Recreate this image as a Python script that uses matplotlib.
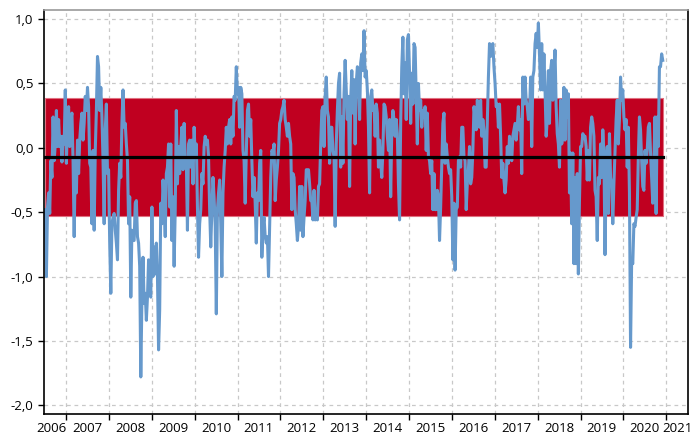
import matplotlib
matplotlib.use("Agg")
import matplotlib.pyplot as plt
import pandas as pd

plt.rcParams["font.family"] = ["Open Sans", "DejaVu Sans"]

# series (roughly weekly, mid 2006 to end 2020)
values = [
    # 2006 - 2008
    -0.48, -1.00, -0.46, -0.35, -0.51, -0.10, -0.23, 0.24, -0.10, 0.03, 0.29, 0.01, 0.22, 0.01, 0.09,
    -0.11, 0.09, 0.03, 0.45, -0.12, 0.22, 0.32, 0.01, 0.22, 0.27, -0.10, -0.69, -0.10, -0.35, 0.06,
    -0.20, 0.06, 0.19, 0.27, 0.06, 0.19, 0.40, 0.29, 0.47, 0.32, -0.12, -0.15, -0.59, -0.02, -0.64,
    -0.02, 0.29, 0.71, 0.63, 0.29, 0.47, 0.24, -0.10, -0.59, 0.14, 0.34, -0.20, -0.17, -0.74, -1.13,
    -0.59, -0.54, -0.51, -0.64, -0.74, -0.87, -0.33, -0.12, -0.23, 0.19, 0.45, 0.16, 0.19, 0.03, -0.10,
    -0.59, -0.38, -1.16, -0.64, -0.72, -0.72, -0.43, -0.41, -0.69, -0.74, -0.92, -1.78, -1.18, -0.85, -1.21,
    # 2008 - 2010
    -1.13, -1.34, -1.16, -0.87, -1.13, -1.16, -0.46, -1.00, -0.77, -0.98, -0.74, -1.00, -1.57, -1.26, -0.43,
    -0.59, -0.25, -0.43, -0.69, -0.20, -0.15, 0.03, -0.46, 0.03, -0.72, -0.38, -0.92, -0.48, 0.29, -0.28,
    0.01, -0.20, 0.01, 0.16, -0.17, 0.19, -0.07, -0.10, -0.64, 0.03, 0.06, -0.15, 0.06, -0.28, 0.16,
    -0.07, 0.03, -0.46, -0.85, -0.59, -0.48, -0.20, -0.28, 0.01, 0.09, 0.03, 0.06, -0.07, -0.48, -0.77,
    -0.48, -0.23, -0.38, -0.61, -1.29, -0.48, -0.35, -0.25, -0.59, -1.00, -0.35, -0.15, -0.02, 0.16, 0.03,
    0.16, 0.22, 0.03, 0.24, 0.09, 0.40, 0.37, 0.63, 0.42, 0.47, 0.16, 0.47, 0.42, -0.02,
    # 2010 - 2013
    -0.10, -0.43, -0.04, 0.29, 0.34, 0.09, 0.22, -0.10, -0.38, -0.23, -0.43, -0.74, -0.35, -0.41, -0.12,
    -0.02, -0.85, -0.61, -0.54, -0.69, -0.74, -0.69, -1.00, -0.61, -0.23, -0.02, -0.04, 0.03, -0.41, -0.25,
    -0.15, -0.02, 0.19, 0.22, 0.29, 0.32, 0.37, 0.22, 0.16, 0.09, 0.19, 0.09, 0.03, -0.48, -0.20,
    -0.23, -0.48, -0.59, -0.72, -0.61, -0.30, -0.64, -0.30, -0.69, -0.54, -0.41, -0.17, -0.17, -0.17, -0.28,
    -0.41, -0.41, -0.56, -0.33, -0.56, -0.54, -0.56, -0.30, -0.28, 0.03, 0.29, 0.32, 0.01, 0.40, 0.55,
    0.29, 0.24, -0.12, 0.16, 0.16, -0.02, -0.07, -0.61, 0.03, 0.29, 0.50, 0.58, -0.15, 0.24, -0.12, 0.42,
    # 2013 - 2015
    0.68, 0.45, 0.22, 0.40, -0.30, 0.37, 0.60, 0.27, 0.53, 0.03, 0.50, 0.63, 0.60, 0.22, 0.66,
    0.73, 0.60, 0.91, 0.55, 0.60, 0.45, 0.16, -0.35, 0.40, 0.45, 0.29, 0.32, 0.09, 0.34, 0.27,
    -0.15, 0.06, -0.12, -0.23, -0.02, 0.34, 0.32, 0.24, 0.09, -0.02, 0.22, -0.38, 0.14, 0.29, 0.22,
    0.09, 0.22, 0.11, -0.28, -0.56, 0.19, 0.63, 0.86, 0.42, 0.66, 0.22, 0.84, 0.88, 0.58, 0.19,
    0.58, 0.34, 0.81, 0.78, 0.42, 0.03, 0.50, 0.29, 0.37, 0.16, 0.29, 0.24, 0.32, -0.02, 0.27,
    -0.07, -0.10, -0.20, -0.10, -0.48, -0.20, -0.48, -0.48, -0.33, -0.38, -0.72, -0.46, -0.15, 0.19, 0.27,
    # 2015 - 2018
    -0.12, 0.03, -0.07, -0.15, -0.20, -0.17, -0.38, -0.87, -0.43, -0.95, -0.48, -0.46, -0.10, -0.07, -0.15,
    0.16, 0.16, -0.07, -0.10, -0.48, -0.28, -0.17, 0.01, -0.28, -0.23, -0.02, 0.32, 0.24, 0.14, 0.37,
    0.29, 0.16, 0.37, 0.09, 0.22, 0.14, -0.15, -0.15, 0.19, 0.55, 0.81, 0.71, 0.76, 0.81, 0.63,
    0.50, 0.32, 0.34, 0.16, 0.34, 0.09, -0.23, -0.12, -0.25, -0.35, -0.25, 0.01, -0.12, 0.09, -0.02,
    -0.10, 0.09, 0.14, 0.19, 0.06, 0.16, 0.32, 0.14, 0.22, -0.20, 0.55, 0.34, 0.55, 0.37, 0.32,
    0.22, 0.27, 0.55, 0.01, 0.55, 0.60, 0.81, 0.89, 0.78, 0.97, 0.73, 0.45, 0.81, 0.45,
    # 2018 - 2020
    0.73, 0.45, 0.09, 0.22, 0.60, 0.19, 0.60, 0.68, 0.37, 0.58, 0.76, 0.32, 0.11, 0.03, -0.15,
    0.37, 0.03, 0.09, 0.47, 0.06, 0.45, 0.24, 0.42, -0.35, -0.04, -0.59, -0.04, -0.90, -0.23, -0.90,
    -0.20, -0.98, -0.41, 0.01, 0.01, 0.11, 0.09, 0.09, 0.01, -0.25, -0.02, -0.25, 0.16, 0.24, 0.19,
    0.09, -0.33, -0.38, -0.72, -0.23, -0.28, 0.03, -0.23, 0.14, -0.04, -0.83, -0.23, 0.01, -0.51, 0.11,
    -0.23, -0.28, -0.59, -0.28, -0.04, 0.22, 0.37, 0.03, 0.22, 0.55, 0.37, 0.45, 0.24, 0.14, 0.22,
    -0.15, 0.16, -0.35, -1.55, -0.87, -0.90, -0.59, -0.61, -0.54, -0.48, -0.07, 0.24, 0.14, -0.10, -0.30,
    -0.33, -0.02, -0.12, -0.02, 0.16, 0.19, -0.04, -0.23, -0.43, -0.12, 0.24, -0.51, 0.24, 0.01, 0.63,
    0.63, 0.73, 0.68,
]
start_date = "2006-07-08"
end_date = "2020-12-01"

mean_level = -0.072
band_low = -0.531
band_high = 0.384

years = list(range(2006, 2022))
yticks = [-2.0, -1.5, -1.0, -0.5, 0.0, 0.5, 1.0]

dates = pd.date_range(start_date, end_date, periods=len(values))

fig = plt.figure(figsize=(6.93, 4.38), dpi=100)
ax = fig.add_axes([44 / 693, 1 - 414 / 438, 644 / 693, 404 / 438])

ax.fill_between([dates[0], dates[-1]], band_low, band_high, color="#c00020",
                edgecolor="#e07080", linewidth=0.8, zorder=1)
ax.plot(dates, values, color="#6699cc", linewidth=2.2, zorder=2)
ax.plot([dates[0], dates[-1]], [mean_level, mean_level], color="black", linewidth=2.3, zorder=3)

ax.set_xlim(pd.Timestamp("2006-06-27"), pd.Timestamp("2021-07-04"))
ax.set_ylim(-2.068, 1.071)

ax.set_yticks(yticks)
ax.set_yticklabels([f"{v:.1f}".replace(".", ",") for v in yticks])

# year boundaries as ticks, labels between them
ax.set_xticks([pd.Timestamp(f"{y}-01-01") for y in years[1:]])
ax.set_xticklabels([])
label_pos = [pd.Timestamp(f"{y}-07-01") for y in years]
label_pos[0] = pd.Timestamp(f"{years[0]}-09-01")
label_pos[-1] = pd.Timestamp(f"{years[-1]}-04-01")
ax.set_xticks(label_pos, minor=True)
ax.set_xticklabels([str(y) for y in years], minor=True)
ax.tick_params(axis="x", which="minor", length=0, pad=6, labelsize=9.5)
ax.tick_params(axis="x", which="major", length=4, width=1)
ax.tick_params(axis="y", length=4, width=1, labelsize=9.5)

ax.grid(True, which="major", color="#c8c8c8", linestyle=(0, (3, 3)), linewidth=0.9)
ax.set_axisbelow(True)

for side in ["left", "bottom", "right"]:
    ax.spines[side].set_color("black")
    ax.spines[side].set_linewidth(1.2)
ax.spines["top"].set_color("#999999")
ax.spines["top"].set_linewidth(1.2)

fig.savefig("out.png", dpi=100)
